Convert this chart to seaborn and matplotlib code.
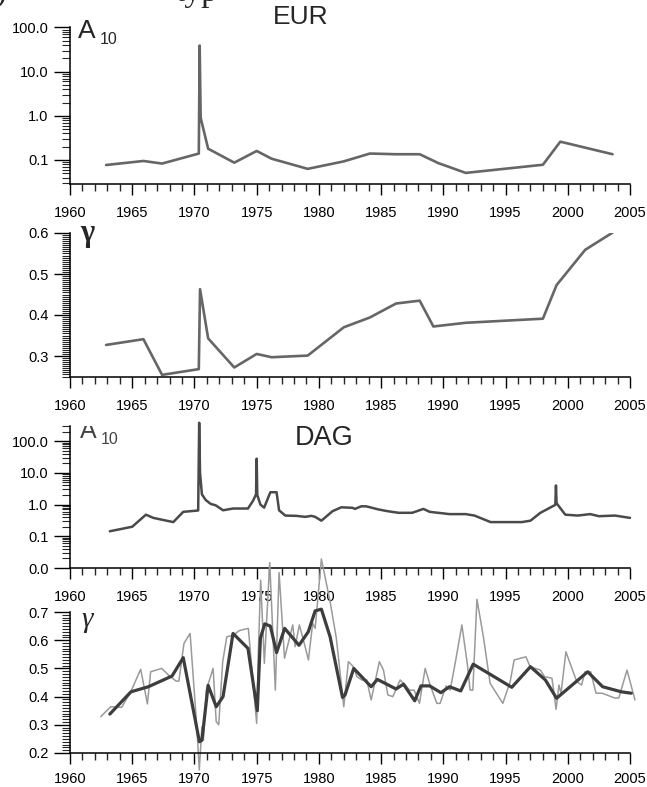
import numpy as np
import matplotlib
matplotlib.use("Agg")
import matplotlib.pyplot as plt
import matplotlib.ticker as mticker
import seaborn as sns
import pandas as pd

# EUR, A10 (log scale)
eur_a_years = [1962.9, 1965.9, 1967.4, 1970.35, 1970.42, 1970.5, 1971.1, 1973.2, 1975.0, 1976.2,
               1979.1, 1982.0, 1984.1, 1986.2, 1988.1, 1989.6, 1991.8, 1998.0, 1999.4, 2003.6]
eur_a10 = [0.077, 0.095, 0.083, 0.14, 39.0, 0.9, 0.18, 0.087, 0.16, 0.107,
           0.063, 0.093, 0.14, 0.135, 0.135, 0.085, 0.051, 0.078, 0.26, 0.135]

# EUR, gamma
eur_g_years = [1962.9, 1965.9, 1967.4, 1970.35, 1970.45, 1971.1, 1973.2, 1975.0, 1976.2, 1979.1,
               1982.0, 1984.1, 1986.2, 1988.1, 1989.2, 1991.8, 1998.0, 1999.1, 2001.4, 2003.6]
eur_gamma = [0.327, 0.341, 0.254, 0.268, 0.463, 0.343, 0.272, 0.305, 0.297, 0.301,
             0.370, 0.394, 0.428, 0.435, 0.372, 0.381, 0.391, 0.473, 0.559, 0.601]

# DAG, A10 (log scale)
dag_a_years = [1963.2, 1965.0, 1966.1, 1966.7, 1968.3, 1969.1, 1970.3, 1970.38, 1970.45, 1970.6,
               1970.9, 1971.3, 1971.7, 1972.3, 1973.1, 1974.3, 1974.7, 1974.95, 1975.0, 1975.05,
               1975.3, 1975.6, 1976.1, 1976.6, 1976.8, 1977.3, 1978.2, 1978.9, 1979.4, 1979.7,
               1980.2, 1981.1, 1981.8, 1982.7, 1982.9, 1983.4, 1983.8, 1984.8, 1985.5, 1986.4,
               1987.5, 1988.4, 1988.9, 1990.5, 1991.8, 1992.5, 1993.8, 1996.3, 1997.0, 1997.8,
               1999.0, 1999.05, 1999.1, 1999.8, 2000.8, 2001.8, 2002.5, 2003.8, 2005.0]
dag_a10 = [0.144, 0.2, 0.48, 0.38, 0.28, 0.59, 0.65, 380.0, 10.0, 2.1,
           1.4, 1.05, 0.95, 0.66, 0.75, 0.75, 1.3, 2.1, 28.0, 2.0,
           1.0, 0.8, 2.45, 2.45, 0.66, 0.45, 0.44, 0.41, 0.44, 0.41,
           0.31, 0.62, 0.82, 0.79, 0.73, 0.88, 0.88, 0.7, 0.62, 0.55,
           0.55, 0.73, 0.59, 0.5, 0.5, 0.45, 0.28, 0.28, 0.31, 0.55,
           0.98, 4.0, 1.1, 0.48, 0.45, 0.5, 0.43, 0.45, 0.38]

# DAG, gamma smoothed (dark)
dag_g_years = [1963.2, 1964.9, 1966.3, 1968.2, 1969.1, 1970.4, 1970.6, 1971.1, 1971.75, 1972.3,
               1973.1, 1974.3, 1975.05, 1975.3, 1975.65, 1976.1, 1976.6, 1977.25, 1978.4, 1979.15,
               1979.7, 1980.2, 1980.9, 1981.9, 1982.1, 1982.8, 1984.2, 1984.7, 1986.2, 1986.8,
               1987.7, 1988.2, 1988.9, 1989.8, 1990.5, 1991.4, 1992.4, 1995.5, 1997.0, 1998.2,
               1999.1, 2001.6, 2002.8, 2004.3, 2005.1]
dag_gamma = [0.338, 0.417, 0.435, 0.473, 0.538, 0.24, 0.245, 0.44, 0.364, 0.4,
             0.624, 0.571, 0.35, 0.607, 0.658, 0.65, 0.556, 0.642, 0.582, 0.63,
             0.704, 0.71, 0.612, 0.397, 0.406, 0.5, 0.435, 0.461, 0.427, 0.444,
             0.385, 0.438, 0.438, 0.414, 0.435, 0.42, 0.515, 0.433, 0.506, 0.459,
             0.394, 0.488, 0.435, 0.417, 0.412]

# DAG, gamma raw (light)
dag_raw_years = [1962.47, 1963.27, 1964.15, 1964.88, 1965.68, 1966.22, 1966.48, 1967.37, 1967.9, 1968.52,
                 1968.75, 1969.16, 1969.65, 1970.18, 1970.39, 1970.6, 1970.72, 1970.95, 1971.5, 1971.75,
                 1971.95, 1972.27, 1972.6, 1973.13, 1973.6, 1974.33, 1975.0, 1975.14, 1975.32, 1975.62,
                 1976.05, 1976.5, 1976.8, 1977.24, 1977.9, 1978.09, 1978.43, 1978.76, 1979.16, 1979.5,
                 1979.7, 1980.2, 1980.9, 1981.4, 1982.0, 1982.37, 1982.77, 1983.05, 1983.45, 1983.85,
                 1984.2, 1984.86, 1985.19, 1985.54, 1985.94, 1986.53, 1986.93, 1987.28, 1987.65, 1988.08,
                 1988.54, 1988.94, 1989.48, 1989.74, 1990.22, 1990.55, 1990.95, 1991.49, 1991.94, 1992.15,
                 1992.37, 1992.7, 1993.22, 1993.76, 1994.78, 1995.37, 1995.69, 1996.64, 1996.97, 1997.8,
                 1998.13, 1998.73, 1999.06, 1999.29, 1999.46, 1999.85, 2000.72, 2001.11, 2001.38, 2001.84,
                 2002.27, 2002.77, 2003.77, 2004.1, 2004.76, 2005.4]
dag_raw = [0.329, 0.364, 0.362, 0.417, 0.497, 0.374, 0.488, 0.5, 0.477, 0.455,
           0.455, 0.589, 0.624, 0.299, 0.14, 0.293, 0.246, 0.423, 0.5, 0.311,
           0.3, 0.524, 0.612, 0.618, 0.634, 0.642, 0.305, 0.565, 0.813, 0.518,
           0.875, 0.423, 0.84, 0.536, 0.654, 0.577, 0.654, 0.6, 0.53, 0.66,
           0.642, 0.888, 0.737, 0.608, 0.364, 0.524, 0.506, 0.471, 0.459, 0.459,
           0.388, 0.524, 0.494, 0.406, 0.4, 0.459, 0.441, 0.423, 0.423, 0.376,
           0.5, 0.441, 0.376, 0.376, 0.438, 0.423, 0.518, 0.654, 0.512, 0.423,
           0.423, 0.745, 0.612, 0.447, 0.376, 0.453, 0.53, 0.541, 0.506, 0.494,
           0.471, 0.465, 0.355, 0.441, 0.412, 0.559, 0.453, 0.441, 0.488, 0.488,
           0.412, 0.412, 0.395, 0.395, 0.494, 0.388]

sns.set_style("ticks")
plt.rcParams['font.family'] = ['Liberation Sans', 'DejaVu Sans']

W_PX, H_PX = 647, 787
fig = plt.figure(figsize=(W_PX / 100, H_PX / 100), dpi=100)


def box(top, bottom, left=70, right=630):
    return [left / W_PX, 1 - bottom / H_PX, (right - left) / W_PX, (bottom - top) / H_PX]


ax1 = fig.add_axes(box(27.5, 184))
ax2 = fig.add_axes(box(233, 376.5))
ax3 = fig.add_axes(box(426, 568))
ax4 = fig.add_axes(box(612, 753))


def style(ax, xpad=8):
    ax.set_xlim(1960, 2005)
    ax.xaxis.set_major_locator(mticker.MultipleLocator(5))
    ax.xaxis.set_minor_locator(mticker.MultipleLocator(1))
    ax.tick_params(axis='x', which='major', direction='out', length=8, width=1, pad=xpad,
                   labelsize=10.5, colors='black')
    ax.tick_params(axis='x', which='minor', direction='out', length=4.7, width=1)
    ax.tick_params(axis='y', which='major', direction='out', length=11.5, width=1, pad=4,
                   labelsize=10.5, colors='black')
    ax.tick_params(axis='y', which='minor', direction='out', length=5.8, width=0.8)
    sns.despine(ax=ax)
    for s in ['left', 'bottom']:
        ax.spines[s].set_linewidth(1.1)
        ax.spines[s].set_color('black')
    ax.set_xlabel('')
    ax.set_ylabel('')
    ax.patch.set_alpha(0)


def log_axis(ax, lo, hi):
    ax.set_yscale('log')
    ax.set_ylim(lo, hi)
    ax.yaxis.set_major_locator(mticker.LogLocator(base=10, numticks=12))
    ax.yaxis.set_minor_locator(mticker.LogLocator(base=10, subs=np.arange(2, 10), numticks=12))
    ax.yaxis.set_major_formatter(mticker.FuncFormatter(lambda v, p: f"{v:.1f}"))
    ax.yaxis.set_minor_formatter(mticker.NullFormatter())


# panel 1
df1 = pd.DataFrame({'year': eur_a_years, 'A10': eur_a10})
sns.lineplot(data=df1, x='year', y='A10', ax=ax1, color='#666666', linewidth=1.9,
             estimator=None, sort=False)
log_axis(ax1, 0.0286, 100)
style(ax1)

# panel 2
df2 = pd.DataFrame({'year': eur_g_years, 'gamma': eur_gamma})
sns.lineplot(data=df2, x='year', y='gamma', ax=ax2, color='#666666', linewidth=1.9,
             estimator=None, sort=False)
ax2.set_ylim(0.25, 0.6)
ax2.yaxis.set_major_locator(mticker.FixedLocator([0.3, 0.4, 0.5, 0.6]))
ax2.yaxis.set_minor_locator(mticker.MultipleLocator(0.005))
ax2.yaxis.set_major_formatter(mticker.FormatStrFormatter('%.1f'))
style(ax2)

# panel 3
df3 = pd.DataFrame({'year': dag_a_years, 'A10': dag_a10})
sns.lineplot(data=df3, x='year', y='A10', ax=ax3, color='#4a4a4a', linewidth=1.8,
             estimator=None, sort=False)
for ln in ax3.lines:
    ln.set_clip_on(False)
log_axis(ax3, 0.01, 300)
style(ax3)

# panel 4
df4a = pd.DataFrame({'year': dag_raw_years, 'gamma': dag_raw})
df4b = pd.DataFrame({'year': dag_g_years, 'gamma': dag_gamma})
sns.lineplot(data=df4a, x='year', y='gamma', ax=ax4, color='#9a9a9a', linewidth=1.1,
             estimator=None, sort=False)
sns.lineplot(data=df4b, x='year', y='gamma', ax=ax4, color='#3d3d3d', linewidth=2.3,
             estimator=None, sort=False)
for ln in ax4.lines:
    ln.set_clip_on(False)
ax4.set_ylim(0.2, 0.7)
ax4.yaxis.set_major_locator(mticker.MultipleLocator(0.1))
ax4.yaxis.set_minor_locator(mticker.MultipleLocator(0.01))
ax4.yaxis.set_major_formatter(mticker.FormatStrFormatter('%.1f'))
style(ax4, xpad=6)


def fx(px):
    return px / W_PX


def fy(py):
    return 1 - py / H_PX


# labels
fig.text(fx(301), fy(17.5), "EUR", ha='center', va='center', fontsize=19)
fig.text(fx(324), fy(438.5), "DAG", ha='center', va='center', fontsize=19.5)
fig.text(fx(78), fy(38.5), "A", ha='left', va='baseline', fontsize=19)
fig.text(fx(99.5), fy(43.5), "10", ha='left', va='baseline', fontsize=11.5)
ax3.text(fx(80), fy(438), "A", ha='left', va='baseline', fontsize=18,
         color='#444444', transform=fig.transFigure, clip_on=True)
fig.text(fx(101), fy(443.5), "10", ha='left', va='baseline', fontsize=11.5, color='#444444')
fig.text(fx(80), fy(241), "γ", ha='left', va='baseline', fontsize=22,
         family=['Liberation Serif', 'DejaVu Serif'], weight='bold')
fig.text(fx(81), fy(627), "γ", ha='left', va='baseline', fontsize=21,
         family=['Liberation Serif', 'DejaVu Serif'], style='italic')

# caption cut off at the top of the picture
fig.text(fx(8), fy(0.5), "b)", ha='right', va='baseline', fontsize=24,
         family=['Liberation Serif', 'DejaVu Serif'])
fig.text(fx(176), fy(0.5), "typ", ha='left', va='baseline', fontsize=24,
         family=['Liberation Serif', 'DejaVu Serif'])

fig.savefig("out.png", dpi=100)
